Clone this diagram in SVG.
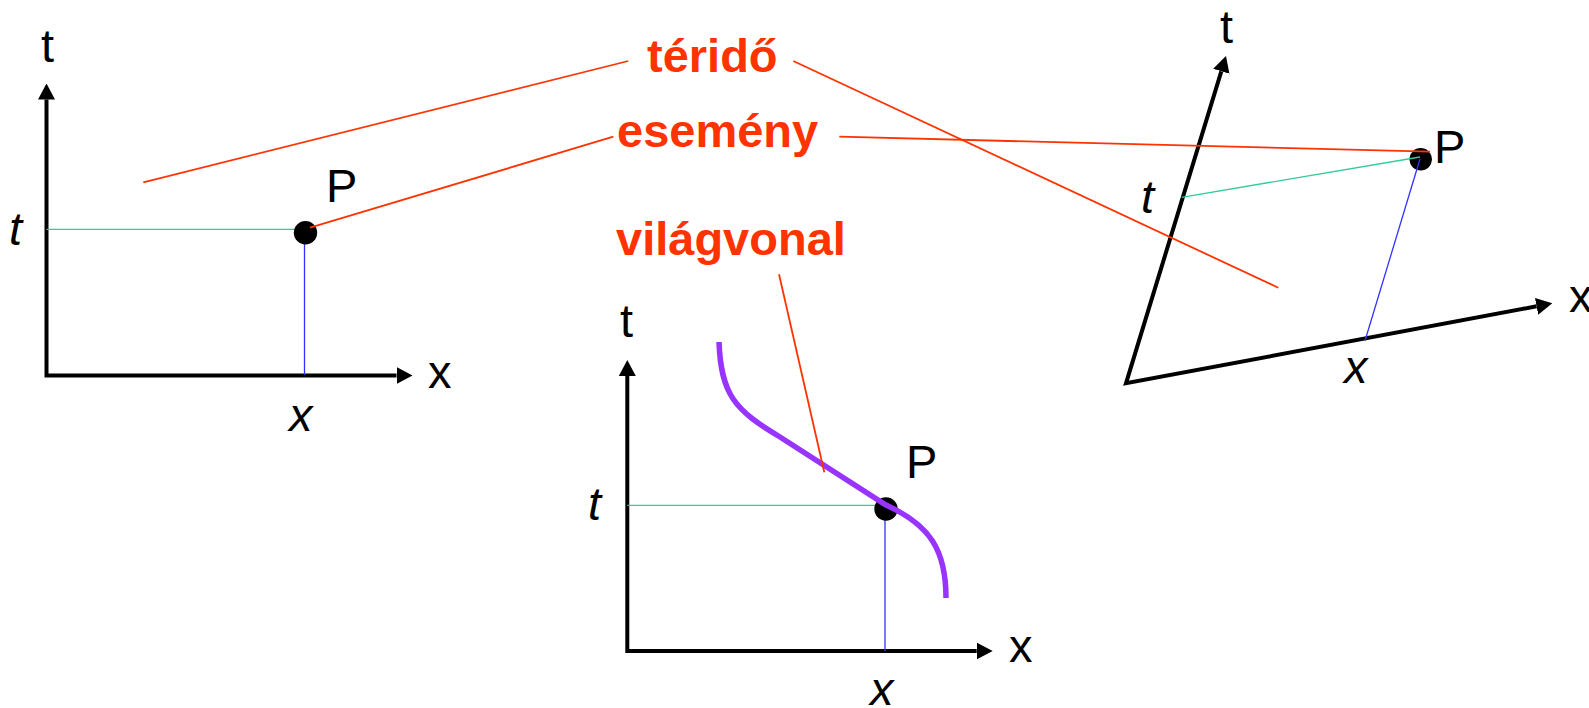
<svg xmlns="http://www.w3.org/2000/svg" width="1589" height="708" viewBox="0 0 1589 708">
<style>
.ax{fill:none;stroke:#000;stroke-width:4;stroke-linejoin:miter;marker-start:url(#ah);marker-end:url(#ah)}
.lbl{font-family:"Liberation Sans",Arial,sans-serif;font-size:47px;fill:#000}
.it{font-style:italic}
.red{font-family:"Liberation Sans",Arial,sans-serif;font-size:47px;font-weight:bold;fill:#FF3300}
.tl{stroke:#33CC99;stroke-width:1.3;fill:none}
.bl{stroke:#3333FF;stroke-width:1.3;fill:none}
.rl{stroke:#FF3300;stroke-width:1.8;fill:none}
.dot{fill:#000}
</style>
<defs>
<marker id="ah" viewBox="0 0 16 18" refX="0" refY="9" markerWidth="16" markerHeight="18" markerUnits="userSpaceOnUse" orient="auto-start-reverse">
<path d="M0,0.5 L16,9 L0,17.5 z" fill="#000"/>
</marker>
</defs>
<rect width="1589" height="708" fill="#fff"/>

<g id="diagram-left">
<path class="ax" d="M46.5,99.5 V375.5 H396.5"/>
<line class="tl" x1="46.5" y1="229.3" x2="300" y2="229.3"/>
<line class="bl" x1="304.5" y1="232" x2="304.5" y2="375"/>
<circle class="dot" cx="305.5" cy="232.7" r="11.7"/>
<text class="lbl" x="41" y="62">t</text>
<text class="lbl" x="428" y="388">x</text>
<text class="lbl" x="326" y="201.5">P</text>
<text class="lbl it" x="9" y="245">t</text>
<text class="lbl it" x="289" y="431">x</text>
</g>

<g id="diagram-middle">
<path class="ax" d="M627.3,376 V651 H976.7"/>
<line class="tl" x1="627.3" y1="505.3" x2="880" y2="505.3"/>
<line class="bl" x1="885" y1="509" x2="885" y2="651"/>
<circle class="dot" cx="886" cy="509" r="11.7"/>
<path d="M719,342 C721,395 735,410 780,437 L886,505 C930,525 946,550 946,598" fill="none" stroke="#9933FF" stroke-width="5.5"/>
<text class="lbl" x="620" y="337">t</text>
<text class="lbl" x="1009" y="662">x</text>
<text class="lbl" x="906" y="478">P</text>
<text class="lbl it" x="588" y="520">t</text>
<text class="lbl it" x="870" y="705">x</text>
</g>

<g id="diagram-right">
<path class="ax" d="M1221.3,71.3 L1126,383.3 L1536.6,306.3"/>
<circle class="dot" cx="1420.7" cy="159.3" r="11.2"/>
<line class="tl" x1="1181.7" y1="197.3" x2="1420" y2="157"/>
<line class="bl" x1="1420" y1="159" x2="1365" y2="340.7"/>
<text class="lbl" x="1220" y="43">t</text>
<text class="lbl" x="1569" y="312">x</text>
<text class="lbl" x="1434" y="163">P</text>
<text class="lbl it" x="1141" y="213">t</text>
<text class="lbl it" x="1344" y="383">x</text>
</g>

<g id="label-terido"><text class="red" x="647" y="72">téridő</text></g>
<g id="label-esemeny"><text class="red" x="617" y="147">esemény</text></g>
<g id="label-vilagvonal"><text class="red" x="616" y="255">világvonal</text></g>

<g id="connectors">
<line class="rl" x1="143.3" y1="182.3" x2="628.3" y2="61"/>
<line class="rl" x1="310" y1="227.7" x2="613.3" y2="136.7"/>
<line class="rl" x1="793.3" y1="61" x2="1278.3" y2="287.7"/>
<line class="rl" x1="839.3" y1="136.7" x2="1430" y2="151.7"/>
<line class="rl" x1="779" y1="274.3" x2="824.3" y2="472.3"/>
</g>
</svg>
